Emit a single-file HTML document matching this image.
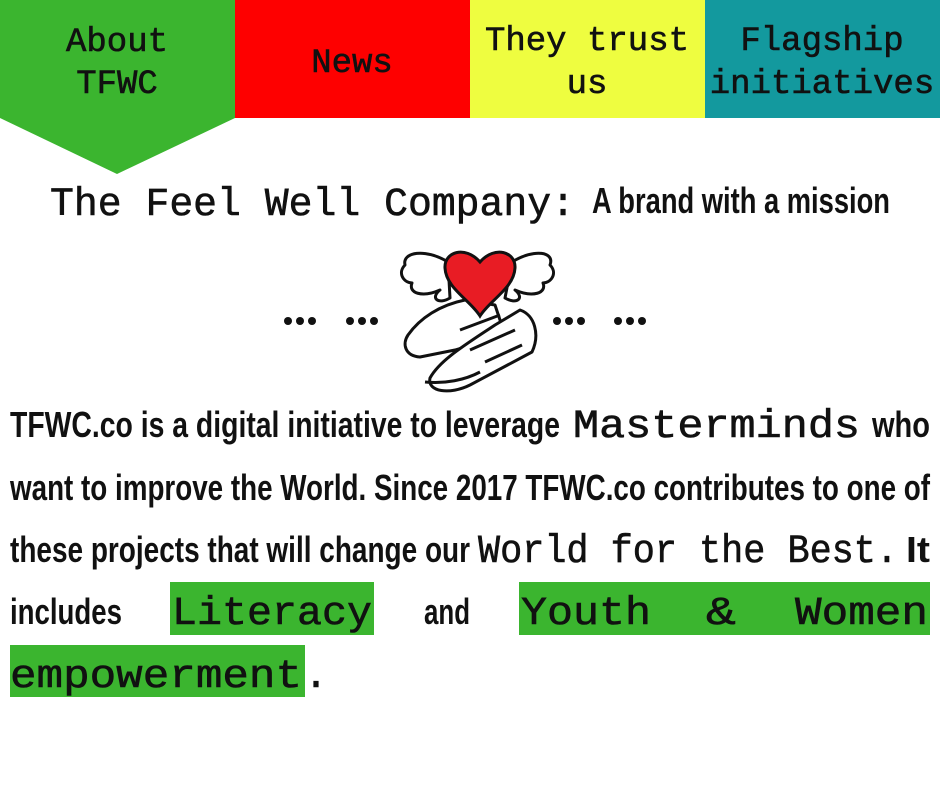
<!DOCTYPE html>
<html><head><style>html,body{margin:0;padding:0;background:#fff}svg{display:block}</style></head><body>
<svg width="940" height="788" viewBox="0 0 940 788" xmlns="http://www.w3.org/2000/svg">
<rect x="0" y="0" width="940" height="788" fill="#fff"/>
<polygon points="0,0 235,0 235,118 117,174 0,118" fill="#3bb52f"/>
<rect x="235" y="0" width="235" height="118" fill="#fe0000"/>
<rect x="470" y="0" width="235" height="118" fill="#eefd40"/>
<rect x="705" y="0" width="235" height="118" fill="#13999e"/>
<g font-family="Liberation Mono, monospace" font-size="34" fill="#111" text-anchor="middle" stroke="#111" stroke-width="0.6">
<text x="117" y="51">About</text><text x="117" y="93">TFWC</text>
<text x="352" y="72">News</text>
<text x="587" y="50">They trust</text><text x="587" y="93">us</text>
<text x="822" y="50">Flagship</text><text x="822" y="93">initiatives</text>
</g>
<text x="50" y="215" font-family="Liberation Mono, monospace" font-size="40" textLength="525" lengthAdjust="spacingAndGlyphs" fill="#111" stroke="#111" stroke-width="0.6">The Feel Well Company:</text>
<text x="592" y="213" font-family="Liberation Sans, sans-serif" font-weight="bold" font-size="36" textLength="298" lengthAdjust="spacingAndGlyphs" fill="#111">A brand with a mission</text>
<g fill="#111">
<circle cx="288" cy="321" r="4"/><circle cx="300" cy="321" r="4"/><circle cx="312" cy="321" r="4"/>
<circle cx="350" cy="321" r="4"/><circle cx="362" cy="321" r="4"/><circle cx="374" cy="321" r="4"/>
<circle cx="557" cy="321" r="4"/><circle cx="569" cy="321" r="4"/><circle cx="581" cy="321" r="4"/>
<circle cx="618" cy="321" r="4"/><circle cx="630" cy="321" r="4"/><circle cx="642" cy="321" r="4"/>
</g>
<g stroke="#111" stroke-width="3" fill="#fff" stroke-linejoin="round">
<path d="M448,262 C425,248 402,252 405,265 C398,272 402,282 412,283 C408,293 422,298 440,290 C430,298 438,305 450,298 Z"/>
<path d="M512,262 C535,248 555,252 550,265 C557,272 553,282 543,283 C547,293 533,298 515,290 C525,298 517,305 505,298 Z"/>
<path d="M408,335 C420,318 440,305 465,300 L495,305 L505,335 L455,350 L420,357 C405,356 402,344 408,335 Z"/>
<path d="M430,378 C440,360 465,345 495,325 L520,310 C535,315 540,335 532,352 L470,385 C450,395 427,392 430,378 Z"/>
<path d="M460,330 L500,315 M470,350 L515,330 M485,362 L522,345 M425,382 C445,384 465,380 480,372"/>
</g>
<path d="M480,316 C470,300 446,288 445,268 C444,252 465,245 480,262 C495,245 516,252 515,268 C514,288 490,300 480,316 Z" fill="#e81c24" stroke="#111" stroke-width="3"/>
<g fill="#3bb52f">
<rect x="170" y="582" width="204" height="53"/>
<rect x="519" y="582" width="411" height="53"/>
<rect x="10" y="645" width="295" height="52"/>
</g>
<g font-family="Liberation Sans, sans-serif" font-weight="bold" font-size="36" fill="#111">
<text x="10" y="437" textLength="550" lengthAdjust="spacingAndGlyphs">TFWC.co is a digital initiative to leverage</text>
<text x="872" y="437" textLength="58" lengthAdjust="spacingAndGlyphs">who</text>
<text x="10" y="500" textLength="920" lengthAdjust="spacingAndGlyphs">want to improve the World. Since 2017  TFWC.co contributes to one of</text>
<text x="10" y="562" textLength="460" lengthAdjust="spacingAndGlyphs">these projects that will change our</text>
<text x="906" y="562" textLength="24" lengthAdjust="spacingAndGlyphs">It</text>
<text x="10" y="624" textLength="112" lengthAdjust="spacingAndGlyphs">includes</text>
<text x="424" y="624" textLength="46" lengthAdjust="spacingAndGlyphs">and</text>
</g>
<g font-family="Liberation Mono, monospace" font-size="40" fill="#111" stroke="#111" stroke-width="0.6">
<text x="573" y="437" textLength="287" lengthAdjust="spacingAndGlyphs">Masterminds</text>
<text x="478" y="562" textLength="420" lengthAdjust="spacingAndGlyphs">World for the Best.</text>
<text x="172" y="624" textLength="200" lengthAdjust="spacingAndGlyphs">Literacy</text>
<text x="521" y="624" textLength="130" lengthAdjust="spacingAndGlyphs">Youth</text>
<text x="706" y="624" textLength="30" lengthAdjust="spacingAndGlyphs">&amp;</text>
<text x="795" y="624" textLength="133" lengthAdjust="spacingAndGlyphs">Women</text>
<text x="10" y="687" textLength="292" lengthAdjust="spacingAndGlyphs">empowerment</text>
<text x="304" y="687">.</text>
</g>
</svg>
</body></html>
